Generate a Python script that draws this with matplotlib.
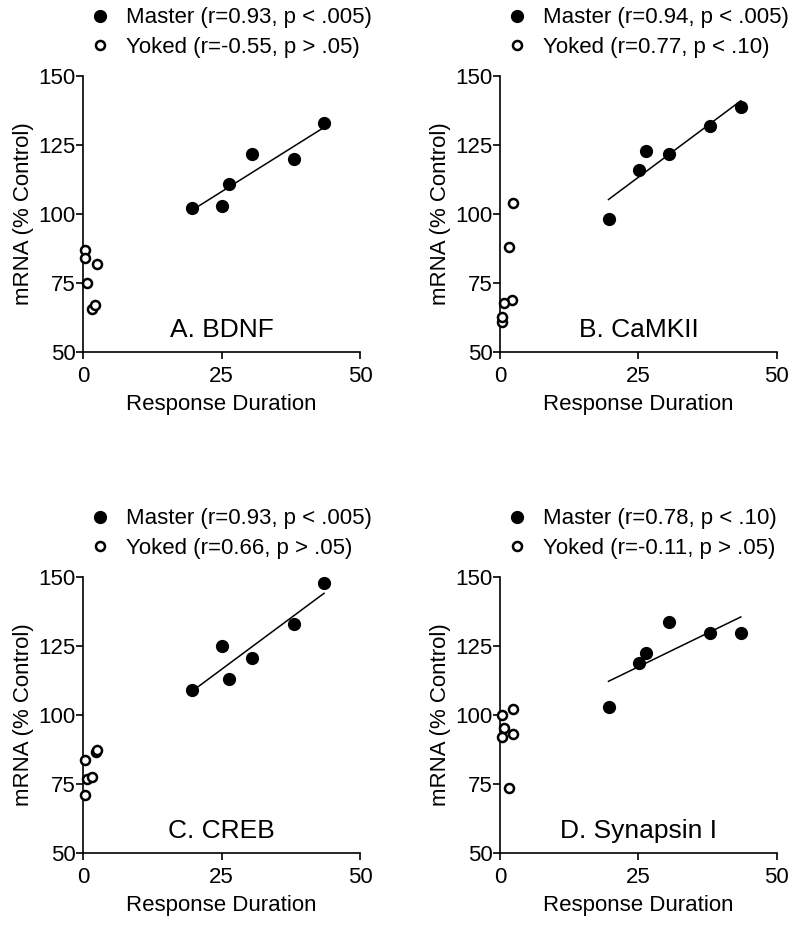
import numpy as np
from matplotlib import pyplot as plt

plt.rcParams['font.family'] = ['Liberation Sans', 'DejaVu Sans']

panels = ["A. BDNF", "B. CaMKII", "C. CREB", "D. Synapsin I"]
master_labels = [
    "Master (r=0.93, p < .005)",
    "Master (r=0.94, p < .005)",
    "Master (r=0.93, p < .005)",
    "Master (r=0.78, p < .10)",
]
yoked_labels = [
    "Yoked (r=-0.55, p > .05)",
    "Yoked (r=0.77, p < .10)",
    "Yoked (r=0.66, p > .05)",
    "Yoked (r=-0.11, p > .05)",
]

# master response durations, same animals in every panel
master_x = [19.6, 25.1, 26.3, 30.5, 38.0, 43.5]
master_y = [
    [102.0, 103.0, 110.7, 121.6, 119.8, 132.8],
    [98.0, 115.9, 122.8, 121.7, 131.9, 138.9],
    [109.0, 124.8, 113.0, 120.7, 132.8, 147.9],
    [102.7, 118.7, 122.6, 133.6, 129.6, 129.6],
]

yoked_x = [
    [0.4, 0.4, 2.5, 0.6, 1.6, 2.2],
    [2.4, 1.6, 2.2, 0.7, 0.3, 0.4],
    [0.3, 0.6, 1.6, 0.3, 2.3, 2.5],
    [0.4, 2.4, 0.7, 2.3, 0.3, 1.6],
]
yoked_y = [
    [87.1, 83.9, 81.8, 74.8, 65.7, 66.9],
    [104.1, 88.0, 68.7, 67.8, 60.9, 62.5],
    [83.6, 76.7, 77.6, 71.0, 86.7, 87.3],
    [100.0, 102.2, 95.1, 92.9, 91.8, 73.6],
]

fig = plt.figure(figsize=(8, 9.26), dpi=100)
lefts = [0.104, 0.625, 0.104, 0.625]
bottoms = [0.620, 0.620, 0.079, 0.079]

for i in range(4):
    ax = fig.add_axes([lefts[i], bottoms[i], 0.346, 0.298])
    mx = np.array(master_x)
    my = np.array(master_y[i])
    ax.plot(mx, my, 'o', color='black', markersize=8.5, label=master_labels[i], clip_on=False)
    ax.plot(yoked_x[i], yoked_y[i], 'o', mfc='white', mec='black', mew=1.8,
            markersize=6.5, label=yoked_labels[i], clip_on=False, zorder=3)
    slope, icpt = np.polyfit(mx, my, 1)
    xs = np.array([mx.min(), mx.max()])
    ax.plot(xs, slope * xs + icpt, color='black', lw=1.1)

    ax.set_xlim(0, 50)
    ax.set_ylim(50, 150)
    ax.set_xticks([0, 25, 50])
    ax.set_yticks([50, 75, 100, 125, 150])
    ax.spines['top'].set_visible(False)
    ax.spines['right'].set_visible(False)
    ax.spines['left'].set_linewidth(1.2)
    ax.spines['bottom'].set_linewidth(1.2)
    ax.tick_params(direction='out', length=5, width=1.2, labelsize=16)
    ax.tick_params(axis='x', pad=5)
    ax.tick_params(axis='y', pad=0.5)
    ax.set_xlabel("Response Duration", fontsize=16, labelpad=5)
    ax.set_ylabel("mRNA (% Control)", fontsize=16, labelpad=3)
    ax.text(25, 58, panels[i], ha='center', va='center', fontsize=19)
    ax.legend(loc='lower left', bbox_to_anchor=(0.02, 1.064), frameon=False,
              fontsize=16, handlelength=1.0, handletextpad=0.68,
              labelspacing=0.4, borderaxespad=0, borderpad=0)

fig.savefig("out.png", dpi=100)
